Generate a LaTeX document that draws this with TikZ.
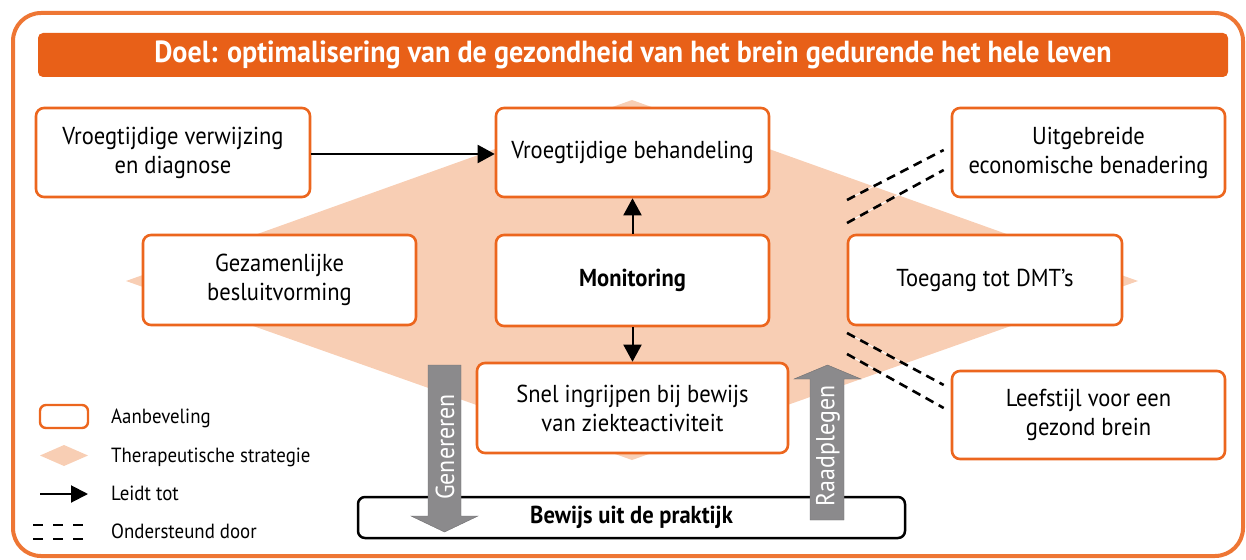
\documentclass[tikz,border=0pt]{standalone}
\usepackage{fontspec}
\setmainfont{PT Sans}[FakeStretch=0.92]
\usetikzlibrary{arrows.meta}
\definecolor{frameor}{RGB}{238,118,52}
\definecolor{titleor}{RGB}{232,96,24}
\definecolor{boxor}{RGB}{236,102,30}
\definecolor{peach}{RGB}{248,206,180}
\definecolor{grayar}{RGB}{139,138,140}
\newcommand{\bxf}{\fontsize{24.5}{29}\selectfont}
\newcommand{\gaf}{\fontsize{26}{29}\selectfont}
\newcommand{\lgf}{\fontsize{20.5}{22}\selectfont}
\newcommand{\ttf}{\fontsize{30.5}{32}\selectfont}
\tikzset{
  rec/.style={draw=boxor, line width=2.6pt, rounded corners=8pt, fill=white, align=center, font=\bxf, inner sep=0pt},
  arr/.style={line width=2pt, -{Triangle[length=17pt,width=18pt]}},
  dsh/.style={line width=2.6pt, dash pattern=on 9pt off 6pt},
  wln/.style={white, line width=0.9pt},
  garrow/.style={fill=grayar, draw=grayar!80!black, line width=0.4pt},
  gtext/.style={rotate=90, text=white, font=\gaf},
  lgtext/.style={anchor=base west, font=\lgf, inner sep=0pt}
}
\begin{document}
\begin{tikzpicture}[x=1pt,y=-1pt]
\useasboundingbox (0,0) rectangle (1246,559);
% frame
\draw[frameor, line width=4pt, rounded corners=28pt] (13,13) rectangle (1243,556);
% title
\node[fill=titleor, rounded corners=5pt, minimum width=1190pt, minimum height=44pt, inner sep=0pt, text=white, font=\bfseries\ttf] (title) at (633,55) {Doel: optimalisering van de gezondheid van het brein gedurende het hele leven};
% diamond
\fill[peach] (632,100) -- (1138,281) -- (632,460) -- (126,281) -- cycle;
% boxes
\node[rec, minimum width=274pt, minimum height=89pt] (b1) at (173,152.5) {Vroegtijdige verwijzing\\en diagnose};
\node[rec, minimum width=273pt, minimum height=89pt] (b2) at (632.5,152.5) {Vroegtijdige behandeling};
\node[rec, minimum width=273pt, minimum height=89pt] (b3) at (1088.5,152.5) {Uitgebreide\\economische benadering};
\node[rec, minimum width=273pt, minimum height=90pt] (b4) at (279.5,280) {Gezamenlijke\\besluitvorming};
\node[rec, minimum width=273pt, minimum height=91pt, font=\bxf\bfseries] (b5) at (632.5,280.5) {Monitoring};
\node[rec, minimum width=274pt, minimum height=90pt] (b6) at (985,280) {Toegang tot DMT's};
\node[rec, minimum width=311pt, minimum height=90pt] (b7) at (632.5,408) {Snel ingrijpen bij bewijs\\van ziekteactiviteit};
\node[rec, minimum width=273pt, minimum height=88pt] (b8) at (1088.5,415) {Leefstijl voor een\\gezond brein};
% arrows
\draw[arr] (b1.east |- 0,154) -- (b2.west |- 0,154);
\draw[arr] (b5.north) -- (b2.south);
\draw[arr] (b5.south) -- (b7.north);
% dashed supports
\coordinate (u1) at (847,200);
\coordinate (u2) at (847,223);
\coordinate (l1) at (847,333);
\coordinate (l2) at (847,354);
\coordinate (u1e) at ([xshift=-7pt,yshift=2.5pt]b3.west);
\coordinate (u2e) at ([xshift=-7pt,yshift=-17.5pt]b3.west);
\coordinate (l1e) at ([xshift=-7pt,yshift=30pt]b8.west);
\coordinate (l2e) at ([xshift=-7pt,yshift=7pt]b8.west);
\draw[wln] (u1) -- (u1e); \draw[dsh] (u1) -- (u1e);
\draw[wln] (u2) -- (u2e); \draw[dsh] (u2) -- (u2e);
\draw[wln] (l1) -- (l1e); \draw[dsh] (l1) -- (l1e);
\draw[wln] (l2) -- (l2e); \draw[dsh] (l2) -- (l2e);
% evidence box
\node[draw=black, line width=2.5pt, rounded corners=7pt, fill=white, minimum width=547pt, minimum height=41pt, inner sep=0pt, font=\bxf\bfseries] (bew) at (631.5,517.5) {Bewijs uit de praktijk};
% gray arrows
\path[garrow] (428,365) -- (461,365) -- (461,516) -- (478,516) -- (444.5,532) -- (411,516) -- (428,516) -- cycle;
\node[gtext] (gen) at (445,447) {Genereren};
\path[garrow] (810,520) -- (810,379) -- (794,379) -- (827.5,365) -- (861,379) -- (844,379) -- (844,520) -- cycle;
\node[gtext] (raad) at (828,446) {Raadplegen};
% legend
\node[draw=boxor, line width=2.4pt, rounded corners=6pt, minimum width=48pt, minimum height=23pt, inner sep=0pt] (lg1) at (64,416.5) {};
\fill[peach] (40,455.5) -- (64,445) -- (88,455.5) -- (64,466) -- cycle;
\coordinate (lga) at (40,494);
\coordinate (lgb) at (88,494);
\draw[line width=2pt, -{Triangle[length=17pt,width=17pt]}] (lga) -- (lgb);
\draw[line width=2.6pt, dash pattern=on 10pt off 10pt] (33,525) -- (88,525);
\draw[line width=2.6pt, dash pattern=on 10pt off 10pt] (33,539) -- (88,539);
\node[lgtext] (t1) at (111,423) {Aanbeveling};
\node[lgtext] (t2) at (111,462) {Therapeutische strategie};
\node[lgtext] (t3) at (111,500) {Leidt tot};
\node[lgtext] (t4) at (111,538) {Ondersteund door};
\end{tikzpicture}
\end{document}
